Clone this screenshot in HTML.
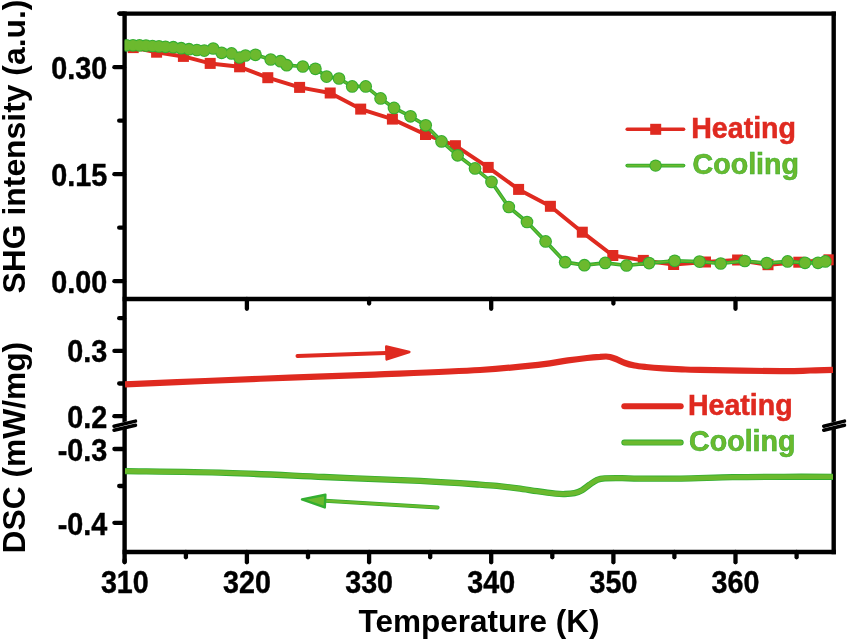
<!DOCTYPE html>
<html lang="en"><head><meta charset="utf-8"><title>SHG intensity and DSC vs Temperature</title>
<style>html,body{margin:0;padding:0;background:#fff}body{width:847px;height:640px;overflow:hidden}svg{display:block;filter:blur(0.35px)}text{font-family:"Liberation Sans",Arial,Helvetica,sans-serif;font-weight:bold;fill:#000}.tk{font-size:28px}.ti{font-size:31.5px}.lg{font-size:28.6px}</style></head><body>
<svg width="847" height="640" viewBox="0 0 847 640">
<rect width="847" height="640" fill="#fff"/>
<g stroke="#000" fill="none" stroke-linecap="butt" stroke-width="4.4">
<line x1="124.6" y1="11.4" x2="124.6" y2="562.5"/>
<line x1="833.7" y1="11.4" x2="833.7" y2="554.2"/>
<line x1="119" y1="13.6" x2="835.9000000000001" y2="13.6"/>
<line x1="122.6" y1="552" x2="835.9000000000001" y2="552"/>
<line x1="122.6" y1="298.95" x2="833.7" y2="298.95"/>
</g>
<g stroke="#000" stroke-width="4.3" stroke-linecap="round">
<line x1="119.2" y1="13.6" x2="124" y2="13.6"/>
<line x1="124.6" y1="560" x2="124.6" y2="562.3"/>
<line x1="114.4" y1="67.2" x2="124" y2="67.2"/>
<line x1="114.4" y1="174.2" x2="124" y2="174.2"/>
<line x1="114.4" y1="281.2" x2="124" y2="281.2"/>
<line x1="114.4" y1="350.9" x2="124" y2="350.9"/>
<line x1="114.4" y1="416.2" x2="124" y2="416.2"/>
<line x1="114.4" y1="449.0" x2="124" y2="449.0"/>
<line x1="114.4" y1="522.8" x2="124" y2="522.8"/>
<line x1="119.2" y1="120.7" x2="124" y2="120.7"/>
<line x1="119.2" y1="227.7" x2="124" y2="227.7"/>
<line x1="119.2" y1="318.2" x2="124" y2="318.2"/>
<line x1="119.2" y1="383.5" x2="124" y2="383.5"/>
<line x1="119.2" y1="486.0" x2="124" y2="486.0"/>
<line x1="246.9" y1="552" x2="246.9" y2="562.3"/>
<line x1="369.1" y1="552" x2="369.1" y2="562.3"/>
<line x1="491.2" y1="552" x2="491.2" y2="562.3"/>
<line x1="613.4" y1="552" x2="613.4" y2="562.3"/>
<line x1="735.5" y1="552" x2="735.5" y2="562.3"/>
<line x1="185.9" y1="552" x2="185.9" y2="557.3"/>
<line x1="308.0" y1="552" x2="308.0" y2="557.3"/>
<line x1="430.2" y1="552" x2="430.2" y2="557.3"/>
<line x1="552.3" y1="552" x2="552.3" y2="557.3"/>
<line x1="674.4" y1="552" x2="674.4" y2="557.3"/>
<line x1="796.6" y1="552" x2="796.6" y2="557.3"/>
<line x1="246.9" y1="299" x2="246.9" y2="308.8"/>
<line x1="491.2" y1="299" x2="491.2" y2="308.8"/>
<line x1="735.5" y1="299" x2="735.5" y2="308.8"/>
<line x1="369.1" y1="299" x2="369.1" y2="303.6"/>
<line x1="613.4" y1="299" x2="613.4" y2="303.6"/>
</g>
<g stroke-linecap="round">
<line x1="114" y1="427.8" x2="135.5" y2="422.8" stroke="#fff" stroke-width="7"/>
<line x1="114" y1="426.2" x2="135.5" y2="421.1" stroke="#000" stroke-width="3.5"/>
<line x1="114" y1="430.2" x2="135.5" y2="425.2" stroke="#000" stroke-width="3.5"/>
<line x1="823.7" y1="427.8" x2="844.5" y2="422.8" stroke="#fff" stroke-width="7"/>
<line x1="823.7" y1="426.2" x2="844.5" y2="421.1" stroke="#000" stroke-width="3.5"/>
<line x1="823.7" y1="430.2" x2="844.5" y2="425.2" stroke="#000" stroke-width="3.5"/>
</g>
<defs><clipPath id="cp"><rect x="124.6" y="13.6" width="709.1" height="538.4"/></clipPath></defs>
<g clip-path="url(#cp)">
<g fill="none" stroke-linejoin="round">
<polyline points="133.2,47.6 156.6,52.2 183.4,56.4 210.2,63.4 239.6,66.8 267.8,77.7 299.6,87.4 330.2,93.0 360.7,109.1 392.4,119.1 425.5,134.5 455.4,145.7 488.2,167.4 518.6,189.4 550.4,206.3 582.3,232.2 612.8,255.5 643.3,260.4 673.6,264.5 705.5,262.0 737.6,260.0 768.0,264.7 798.8,262.2 829.0,259.8" stroke="#df2a20" stroke-width="4"/>
</g>
<g fill="#df2a20">
<rect x="127.7" y="42.1" width="11" height="11"/>
<rect x="151.1" y="46.7" width="11" height="11"/>
<rect x="177.9" y="50.9" width="11" height="11"/>
<rect x="204.7" y="57.9" width="11" height="11"/>
<rect x="234.1" y="61.3" width="11" height="11"/>
<rect x="262.3" y="72.2" width="11" height="11"/>
<rect x="294.1" y="81.9" width="11" height="11"/>
<rect x="324.7" y="87.5" width="11" height="11"/>
<rect x="355.2" y="103.6" width="11" height="11"/>
<rect x="386.9" y="113.6" width="11" height="11"/>
<rect x="420.0" y="129.0" width="11" height="11"/>
<rect x="449.9" y="140.2" width="11" height="11"/>
<rect x="482.7" y="161.9" width="11" height="11"/>
<rect x="513.1" y="183.9" width="11" height="11"/>
<rect x="544.9" y="200.8" width="11" height="11"/>
<rect x="576.8" y="226.7" width="11" height="11"/>
<rect x="607.3" y="250.0" width="11" height="11"/>
<rect x="637.8" y="254.9" width="11" height="11"/>
<rect x="668.1" y="259.0" width="11" height="11"/>
<rect x="700.0" y="256.5" width="11" height="11"/>
<rect x="732.1" y="254.5" width="11" height="11"/>
<rect x="762.5" y="259.2" width="11" height="11"/>
<rect x="793.3" y="256.7" width="11" height="11"/>
<rect x="823.5" y="254.3" width="11" height="11"/>
</g>
<polyline points="126.5,45.3 133.0,45.3 139.5,45.4 146.0,45.6 152.5,46.0 159.0,46.4 165.5,46.8 173.3,47.2 181.2,48.2 189.0,49.2 196.9,50.0 204.3,50.6 213.2,48.5 221.6,52.8 231.5,53.4 239.5,57.5 245.5,55.5 255.5,54.8 270.7,59.5 280.4,61.2 286.7,65.2 302.8,66.5 315.4,68.8 326.6,76.6 339.0,78.5 352.2,86.4 365.7,86.4 380.6,98.4 394.0,107.9 410.5,116.3 425.7,125.3 441.5,141.4 457.6,155.3 475.0,168.4 491.5,181.9 508.8,207.0 527.0,222.0 545.6,241.4 565.2,262.2 584.4,265.2 605.2,262.9 626.5,265.5 649.1,263.1 674.7,260.8 699.5,261.6 720.7,263.5 744.8,261.0 766.8,263.1 787.6,261.4 805.0,262.8 818.0,262.8 825.3,261.4" fill="none" stroke="#33ae30" stroke-width="3.7" stroke-linejoin="round"/>
<polyline points="126.5,45.3 133.0,45.3 139.5,45.4 146.0,45.6 152.5,46.0 159.0,46.4 165.5,46.8 173.3,47.2 181.2,48.2 189.0,49.2 196.9,50.0 204.3,50.6 213.2,48.5 221.6,52.8 231.5,53.4 239.5,57.5 245.5,55.5 255.5,54.8 270.7,59.5 280.4,61.2 286.7,65.2 302.8,66.5 315.4,68.8 326.6,76.6 339.0,78.5 352.2,86.4 365.7,86.4 380.6,98.4 394.0,107.9 410.5,116.3 425.7,125.3 441.5,141.4 457.6,155.3 475.0,168.4 491.5,181.9 508.8,207.0 527.0,222.0 545.6,241.4 565.2,262.2 584.4,265.2 605.2,262.9 626.5,265.5 649.1,263.1 674.7,260.8 699.5,261.6 720.7,263.5 744.8,261.0 766.8,263.1 787.6,261.4 805.0,262.8 818.0,262.8 825.3,261.4" fill="none" stroke="#6cb92e" stroke-width="1.5" stroke-linejoin="round"/>
<g fill="#33ae30">
<circle cx="126.5" cy="45.3" r="6.35"/>
<circle cx="133.0" cy="45.3" r="6.35"/>
<circle cx="139.5" cy="45.4" r="6.35"/>
<circle cx="146.0" cy="45.6" r="6.35"/>
<circle cx="152.5" cy="46.0" r="6.35"/>
<circle cx="159.0" cy="46.4" r="6.35"/>
<circle cx="165.5" cy="46.8" r="6.35"/>
<circle cx="173.3" cy="47.2" r="6.35"/>
<circle cx="181.2" cy="48.2" r="6.35"/>
<circle cx="189.0" cy="49.2" r="6.35"/>
<circle cx="196.9" cy="50.0" r="6.35"/>
<circle cx="204.3" cy="50.6" r="6.35"/>
<circle cx="213.2" cy="48.5" r="6.35"/>
<circle cx="221.6" cy="52.8" r="6.35"/>
<circle cx="231.5" cy="53.4" r="6.35"/>
<circle cx="239.5" cy="57.5" r="6.35"/>
<circle cx="245.5" cy="55.5" r="6.35"/>
<circle cx="255.5" cy="54.8" r="6.35"/>
<circle cx="270.7" cy="59.5" r="6.35"/>
<circle cx="280.4" cy="61.2" r="6.35"/>
<circle cx="286.7" cy="65.2" r="6.35"/>
<circle cx="302.8" cy="66.5" r="6.35"/>
<circle cx="315.4" cy="68.8" r="6.35"/>
<circle cx="326.6" cy="76.6" r="6.35"/>
<circle cx="339.0" cy="78.5" r="6.35"/>
<circle cx="352.2" cy="86.4" r="6.35"/>
<circle cx="365.7" cy="86.4" r="6.35"/>
<circle cx="380.6" cy="98.4" r="6.35"/>
<circle cx="394.0" cy="107.9" r="6.35"/>
<circle cx="410.5" cy="116.3" r="6.35"/>
<circle cx="425.7" cy="125.3" r="6.35"/>
<circle cx="441.5" cy="141.4" r="6.35"/>
<circle cx="457.6" cy="155.3" r="6.35"/>
<circle cx="475.0" cy="168.4" r="6.35"/>
<circle cx="491.5" cy="181.9" r="6.35"/>
<circle cx="508.8" cy="207.0" r="6.35"/>
<circle cx="527.0" cy="222.0" r="6.35"/>
<circle cx="545.6" cy="241.4" r="6.35"/>
<circle cx="565.2" cy="262.2" r="6.35"/>
<circle cx="584.4" cy="265.2" r="6.35"/>
<circle cx="605.2" cy="262.9" r="6.35"/>
<circle cx="626.5" cy="265.5" r="6.35"/>
<circle cx="649.1" cy="263.1" r="6.35"/>
<circle cx="674.7" cy="260.8" r="6.35"/>
<circle cx="699.5" cy="261.6" r="6.35"/>
<circle cx="720.7" cy="263.5" r="6.35"/>
<circle cx="744.8" cy="261.0" r="6.35"/>
<circle cx="766.8" cy="263.1" r="6.35"/>
<circle cx="787.6" cy="261.4" r="6.35"/>
<circle cx="805.0" cy="262.8" r="6.35"/>
<circle cx="818.0" cy="262.8" r="6.35"/>
<circle cx="825.3" cy="261.4" r="6.35"/>
</g>
<g fill="#6cb92e">
<circle cx="126.5" cy="45.3" r="5.3"/>
<circle cx="133.0" cy="45.3" r="5.3"/>
<circle cx="139.5" cy="45.4" r="5.3"/>
<circle cx="146.0" cy="45.6" r="5.3"/>
<circle cx="152.5" cy="46.0" r="5.3"/>
<circle cx="159.0" cy="46.4" r="5.3"/>
<circle cx="165.5" cy="46.8" r="5.3"/>
<circle cx="173.3" cy="47.2" r="5.3"/>
<circle cx="181.2" cy="48.2" r="5.3"/>
<circle cx="189.0" cy="49.2" r="5.3"/>
<circle cx="196.9" cy="50.0" r="5.3"/>
<circle cx="204.3" cy="50.6" r="5.3"/>
<circle cx="213.2" cy="48.5" r="5.3"/>
<circle cx="221.6" cy="52.8" r="5.3"/>
<circle cx="231.5" cy="53.4" r="5.3"/>
<circle cx="239.5" cy="57.5" r="5.3"/>
<circle cx="245.5" cy="55.5" r="5.3"/>
<circle cx="255.5" cy="54.8" r="5.3"/>
<circle cx="270.7" cy="59.5" r="5.3"/>
<circle cx="280.4" cy="61.2" r="5.3"/>
<circle cx="286.7" cy="65.2" r="5.3"/>
<circle cx="302.8" cy="66.5" r="5.3"/>
<circle cx="315.4" cy="68.8" r="5.3"/>
<circle cx="326.6" cy="76.6" r="5.3"/>
<circle cx="339.0" cy="78.5" r="5.3"/>
<circle cx="352.2" cy="86.4" r="5.3"/>
<circle cx="365.7" cy="86.4" r="5.3"/>
<circle cx="380.6" cy="98.4" r="5.3"/>
<circle cx="394.0" cy="107.9" r="5.3"/>
<circle cx="410.5" cy="116.3" r="5.3"/>
<circle cx="425.7" cy="125.3" r="5.3"/>
<circle cx="441.5" cy="141.4" r="5.3"/>
<circle cx="457.6" cy="155.3" r="5.3"/>
<circle cx="475.0" cy="168.4" r="5.3"/>
<circle cx="491.5" cy="181.9" r="5.3"/>
<circle cx="508.8" cy="207.0" r="5.3"/>
<circle cx="527.0" cy="222.0" r="5.3"/>
<circle cx="545.6" cy="241.4" r="5.3"/>
<circle cx="565.2" cy="262.2" r="5.3"/>
<circle cx="584.4" cy="265.2" r="5.3"/>
<circle cx="605.2" cy="262.9" r="5.3"/>
<circle cx="626.5" cy="265.5" r="5.3"/>
<circle cx="649.1" cy="263.1" r="5.3"/>
<circle cx="674.7" cy="260.8" r="5.3"/>
<circle cx="699.5" cy="261.6" r="5.3"/>
<circle cx="720.7" cy="263.5" r="5.3"/>
<circle cx="744.8" cy="261.0" r="5.3"/>
<circle cx="766.8" cy="263.1" r="5.3"/>
<circle cx="787.6" cy="261.4" r="5.3"/>
<circle cx="805.0" cy="262.8" r="5.3"/>
<circle cx="818.0" cy="262.8" r="5.3"/>
<circle cx="825.3" cy="261.4" r="5.3"/>
</g>
<path d="M125.0,384.4 C138.3,383.8 177.5,382.1 205.0,381.0 C232.5,379.9 261.7,378.7 290.0,377.6 C318.3,376.5 343.3,375.9 375.0,374.6 C406.7,373.3 452.5,371.7 480.0,370.0 C507.5,368.3 525.3,366.2 540.0,364.6 C554.7,363.0 560.2,361.5 568.0,360.4 C575.8,359.3 581.7,358.6 587.0,358.0 C592.3,357.4 596.8,357.1 600.0,356.9 C603.2,356.6 604.3,356.5 606.0,356.5 C607.7,356.5 608.3,356.5 610.0,356.9 C611.7,357.3 613.5,358.0 616.0,359.0 C618.5,360.0 621.9,361.9 625.0,363.0 C628.1,364.1 631.0,364.8 634.5,365.5 C638.0,366.2 641.2,366.5 646.0,367.0 C650.8,367.5 657.0,368.0 663.0,368.4 C669.0,368.8 675.8,369.1 682.0,369.3 C688.2,369.6 683.5,369.6 700.0,369.9 C716.5,370.2 762.7,371.1 781.0,371.2 C799.3,371.3 801.3,370.7 810.0,370.5 C818.7,370.3 829.2,369.9 833.0,369.8" fill="none" stroke="#df2a20" stroke-width="6.2" stroke-linecap="butt"/>
<path d="M125.0,471.1 C141.8,471.4 192.8,471.8 226.0,472.8 C259.2,473.8 291.7,475.6 324.0,477.0 C356.3,478.4 394.0,479.6 420.0,480.9 C446.0,482.2 466.8,483.7 480.0,484.6 C493.2,485.5 492.7,485.5 499.0,486.1 C505.3,486.7 511.7,487.5 518.0,488.4 C524.3,489.2 530.7,490.3 537.0,491.2 C543.3,492.1 550.9,493.1 555.6,493.6 C560.3,494.1 561.9,494.1 565.0,494.0 C568.1,493.9 571.7,493.7 574.5,493.1 C577.3,492.5 579.5,491.6 582.0,490.2 C584.5,488.8 587.1,486.3 589.6,484.6 C592.1,482.9 594.7,480.9 597.2,479.8 C599.7,478.8 600.7,478.6 604.8,478.3 C608.9,478.0 616.1,478.1 622.0,478.1 C627.9,478.2 630.2,478.5 640.0,478.6 C649.8,478.7 665.6,478.8 681.0,478.6 C696.4,478.4 715.3,477.5 732.5,477.2 C749.7,476.9 767.2,476.9 784.0,476.8 C800.8,476.7 824.8,476.8 833.0,476.8" fill="none" stroke="#33ae30" stroke-width="6.3" stroke-linecap="butt"/>
<path d="M125.0,471.1 C141.8,471.4 192.8,471.8 226.0,472.8 C259.2,473.8 291.7,475.6 324.0,477.0 C356.3,478.4 394.0,479.6 420.0,480.9 C446.0,482.2 466.8,483.7 480.0,484.6 C493.2,485.5 492.7,485.5 499.0,486.1 C505.3,486.7 511.7,487.5 518.0,488.4 C524.3,489.2 530.7,490.3 537.0,491.2 C543.3,492.1 550.9,493.1 555.6,493.6 C560.3,494.1 561.9,494.1 565.0,494.0 C568.1,493.9 571.7,493.7 574.5,493.1 C577.3,492.5 579.5,491.6 582.0,490.2 C584.5,488.8 587.1,486.3 589.6,484.6 C592.1,482.9 594.7,480.9 597.2,479.8 C599.7,478.8 600.7,478.6 604.8,478.3 C608.9,478.0 616.1,478.1 622.0,478.1 C627.9,478.2 630.2,478.5 640.0,478.6 C649.8,478.7 665.6,478.8 681.0,478.6 C696.4,478.4 715.3,477.5 732.5,477.2 C749.7,476.9 767.2,476.9 784.0,476.8 C800.8,476.7 824.8,476.8 833.0,476.8" fill="none" stroke="#6cb92e" stroke-width="4.6" stroke-linecap="butt"/>
<g stroke="#df2a20" fill="#df2a20" stroke-linecap="round" stroke-linejoin="round">
<line x1="297.5" y1="356" x2="386" y2="352.9" stroke-width="4"/>
<path d="M386.3,346.6 L409.3,352 L386.7,359.3 Z" stroke-width="2.6"/>
</g>
<g stroke="#33ae30" fill="#6cb92e" stroke-linecap="round" stroke-linejoin="round">
<line x1="437.6" y1="507.5" x2="325" y2="500.8" stroke-width="4" stroke="#33ae30"/>
<line x1="437.6" y1="507.5" x2="325" y2="500.8" stroke-width="2.4" stroke="#6cb92e"/>
<path d="M325.4,494.7 L302.0,499.4 L324.8,507.4 Z" stroke-width="2.4"/>
</g>
</g>
<g class="tk" text-anchor="end" stroke="#000" stroke-width="0.4">
<text transform="translate(107.3 79.2) scale(1.028 1.09)">0.30</text>
<text transform="translate(107.3 186.2) scale(1.028 1.09)">0.15</text>
<text transform="translate(107.3 293.0) scale(1.028 1.09)">0.00</text>
<text transform="translate(107.3 362.4) scale(1.028 1.09)">0.3</text>
<text transform="translate(107.3 428.0) scale(1.028 1.09)">0.2</text>
<text transform="translate(107.3 461.0) scale(1.028 1.09)">-0.3</text>
<text transform="translate(107.3 534.8) scale(1.028 1.09)">-0.4</text>
</g>
<g class="tk" text-anchor="middle" stroke="#000" stroke-width="0.4">
<text transform="translate(124.8 593.1) scale(1.025 1.10)">310</text>
<text transform="translate(246.9 593.1) scale(1.025 1.10)">320</text>
<text transform="translate(369.1 593.1) scale(1.025 1.10)">330</text>
<text transform="translate(491.2 593.1) scale(1.025 1.10)">340</text>
<text transform="translate(613.4 593.1) scale(1.025 1.10)">350</text>
<text transform="translate(735.5 593.1) scale(1.025 1.10)">360</text>
</g>
<text class="ti" text-anchor="middle" x="479" y="632">Temperature (K)</text>
<text class="ti" text-anchor="middle" transform="translate(25.3 146.5) rotate(-90) scale(1.012 1)">SHG intensity (a.u.)</text>
<text class="ti" text-anchor="middle" transform="translate(24.9 447.6) rotate(-90) scale(1.008 1)">DSC (mW/mg)</text>
<line x1="627.2" y1="129.2" x2="683.6" y2="129.2" stroke="#df2a20" stroke-width="3.5" stroke-linecap="round"/>
<rect x="650.2" y="123.8" width="11" height="11" fill="#df2a20"/>
<text class="lg" x="691.2" y="137.7" style="fill:#df2a20;stroke:#e0241c;stroke-width:0.5px">Heating</text>
<line x1="627.2" y1="165.6" x2="683.6" y2="165.6" stroke="#33ae30" stroke-width="3.6" stroke-linecap="round"/>
<line x1="627.2" y1="165.6" x2="683.6" y2="165.6" stroke="#6cb92e" stroke-width="1.6" stroke-linecap="round"/>
<circle cx="655.6" cy="165.6" r="6.2" fill="#33ae30"/>
<circle cx="655.6" cy="165.6" r="5.2" fill="#6cb92e"/>
<text class="lg" x="692.6" y="174" style="fill:#6cb92e;stroke:#33ae30;stroke-width:0.6px">Cooling</text>
<line x1="624.3" y1="406.3" x2="680.7" y2="406.3" stroke="#df2a20" stroke-width="6" stroke-linecap="round"/>
<text class="lg" x="687.9" y="414.7" style="fill:#df2a20;stroke:#e0241c;stroke-width:0.5px">Heating</text>
<line x1="624.3" y1="442.6" x2="680.7" y2="442.6" stroke="#33ae30" stroke-width="6" stroke-linecap="round"/>
<line x1="624.3" y1="442.6" x2="680.7" y2="442.6" stroke="#6cb92e" stroke-width="4.2" stroke-linecap="round"/>
<text class="lg" x="689.1" y="450.8" style="fill:#6cb92e;stroke:#33ae30;stroke-width:0.6px">Cooling</text>
</svg></body></html>
